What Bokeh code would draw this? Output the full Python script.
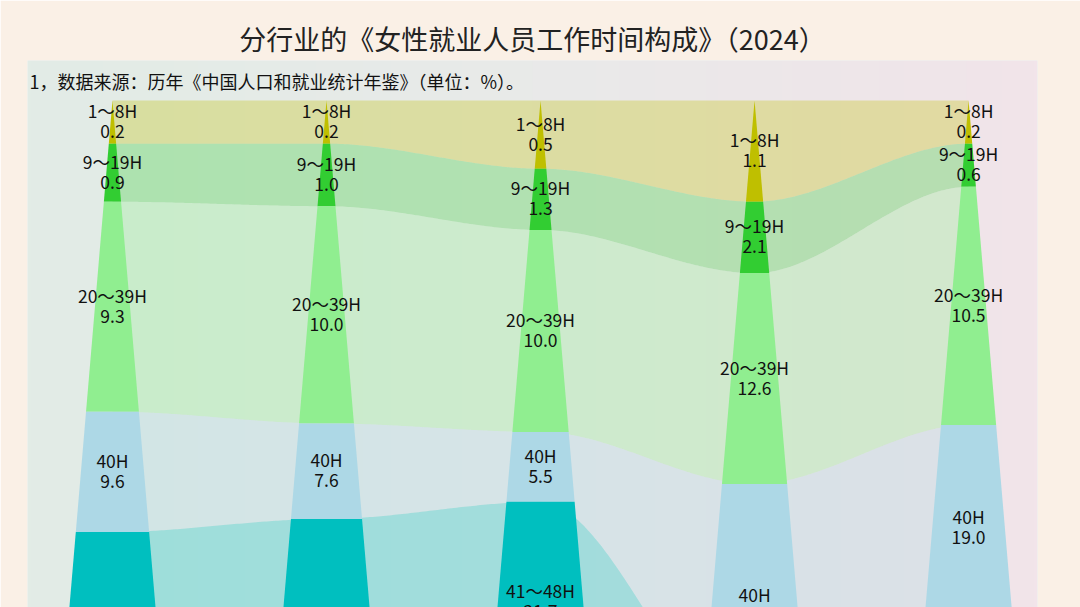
import numpy as np
from bokeh.plotting import figure
from bokeh.models import Range1d, Label, ColumnDataSource
from bokeh.embed import file_html
from bokeh.resources import INLINE
from bokeh.core.properties import value

# ---------------- data ----------------
title_text = "分行业的《女性就业人员工作时间构成》（2024）"
note_text = "1，数据来源：历年《中国人口和就业统计年鉴》（单位：%）。"
categories = ["1～8H", "9～19H", "20～39H", "40H", "41～48H"]
col_pos = [0, 1, 2, 3, 4]
v_1_8 = [0.2, 0.2, 0.5, 1.1, 0.2]
v_9_19 = [0.9, 1.0, 1.3, 2.1, 0.6]
v_20_39 = [9.3, 10.0, 10.0, 12.6, 10.5]
v_40 = [9.6, 7.6, 5.5, 26.4, 19.0]
v_41_48 = [22.0, 24.0, 21.7, 18.0, 20.0]

# ---------------- styles ----------------
colors = ["#bfbf00", "#32cd32", "#90ee90", "#add8e6", "#00bfbf"]
FONT = "Noto Sans CJK SC"
HW = 0.0383          # half width of a column per unit of depth (x units)
BAND_ALPHA = 0.3

values = np.array([v_1_8, v_9_19, v_20_39, v_40, v_41_48], dtype=float)
cum = np.vstack([np.zeros(values.shape[1]), np.cumsum(values, axis=0)])
depth = np.sqrt(cum)          # area of each triangle piece is proportional to its value

x0, x1 = -0.397, 4.322
y_bottom, y_top = 5.254, -0.4145

p = figure(width=1080, height=607, output_backend="svg", toolbar_location=None,
           x_range=Range1d(x0, x1), y_range=Range1d(y_bottom, y_top),
           min_border_left=27, min_border_right=43, min_border_bottom=0, min_border_top=60)
p.axis.visible = False
p.grid.visible = False
p.outline_line_color = None
p.border_fill_color = "#faf0e6"
p.background_fill_color = "#e9ebe9"

p.title.text = title_text
p.title.align = "center"
p.title.text_font = FONT
p.title.text_font_size = "27px"
p.title.text_font_style = "normal"
p.title.text_color = "#222222"
p.title.standoff = 5

# background gradient of the plotting area
nx = 256
tt = np.linspace(0, 1, nx)
stops_t = [0.0, 0.5, 0.93, 1.0]
stops_c = np.array([[226, 236, 230], [233, 234, 233], [240, 229, 233], [242, 228, 234]], float)
rgb = np.stack([np.interp(tt, stops_t, stops_c[:, c]) for c in range(3)], axis=1).astype(np.uint32)
row = (255 << 24) | (rgb[:, 2] << 16) | (rgb[:, 1] << 8) | rgb[:, 0]
img = np.tile(row, (2, 1)).astype(np.uint32)
p.image_rgba(image=[img], x=x0, y=y_top, dw=x1 - x0, dh=y_bottom - y_top)

# flowing bands between neighbouring columns
bx, by, bc = [], [], []
n_cols = len(col_pos)
for i in range(n_cols - 1):
    xs = np.linspace(col_pos[i], col_pos[i + 1], 80)
    t = (xs - col_pos[i]) / (col_pos[i + 1] - col_pos[i])
    s = t * t * (3 - 2 * t)
    for k in range(len(categories)):
        top = depth[k, i] + (depth[k, i + 1] - depth[k, i]) * s
        bot = depth[k + 1, i] + (depth[k + 1, i + 1] - depth[k + 1, i]) * s
        bx.append(list(xs) + list(xs[::-1]))
        by.append(list(top) + list(bot[::-1]))
        bc.append(colors[k])
p.patches(xs="xs", ys="ys", fill_color="c", fill_alpha=BAND_ALPHA, line_color=None,
          source=ColumnDataSource(dict(xs=bx, ys=by, c=bc)))

# triangle columns
cx, cy, cc = [], [], []
lx, ly, lname, lval = [], [], [], []
for i in range(n_cols):
    xc = col_pos[i]
    for k in range(len(categories)):
        a, b = depth[k, i], depth[k + 1, i]
        cx.append([xc - HW * a, xc + HW * a, xc + HW * b, xc - HW * b])
        cy.append([a, a, b, b])
        cc.append(colors[k])
        mid = (a + b) / 2
        if mid < y_bottom + 0.05:
            lx.append(xc)
            ly.append(mid)
            lname.append(categories[k])
            lval.append(f"{values[k, i]:.1f}")
p.patches(xs="xs", ys="ys", fill_color="c", fill_alpha=1.0, line_color=None,
          source=ColumnDataSource(dict(xs=cx, ys=cy, c=cc)))

lsrc = ColumnDataSource(dict(x=lx, y=ly, n=lname, v=lval))
common = dict(text_align="center", text_baseline="middle", text_font=value(FONT),
              text_font_size="17.5px", text_color="#111111")
p.text(x="x", y="y", text="n", source=lsrc, y_offset=-11.5, **common)
p.text(x="x", y="y", text="v", source=lsrc, y_offset=9.5, **common)

p.add_layout(Label(x=x0 + 0.009, y=-0.207, text=note_text, text_font=FONT,
                   text_font_size="18px", text_color="#111111", text_baseline="middle",
                   text_align="left"))

open("out.html", "w").write(file_html(p, INLINE))
